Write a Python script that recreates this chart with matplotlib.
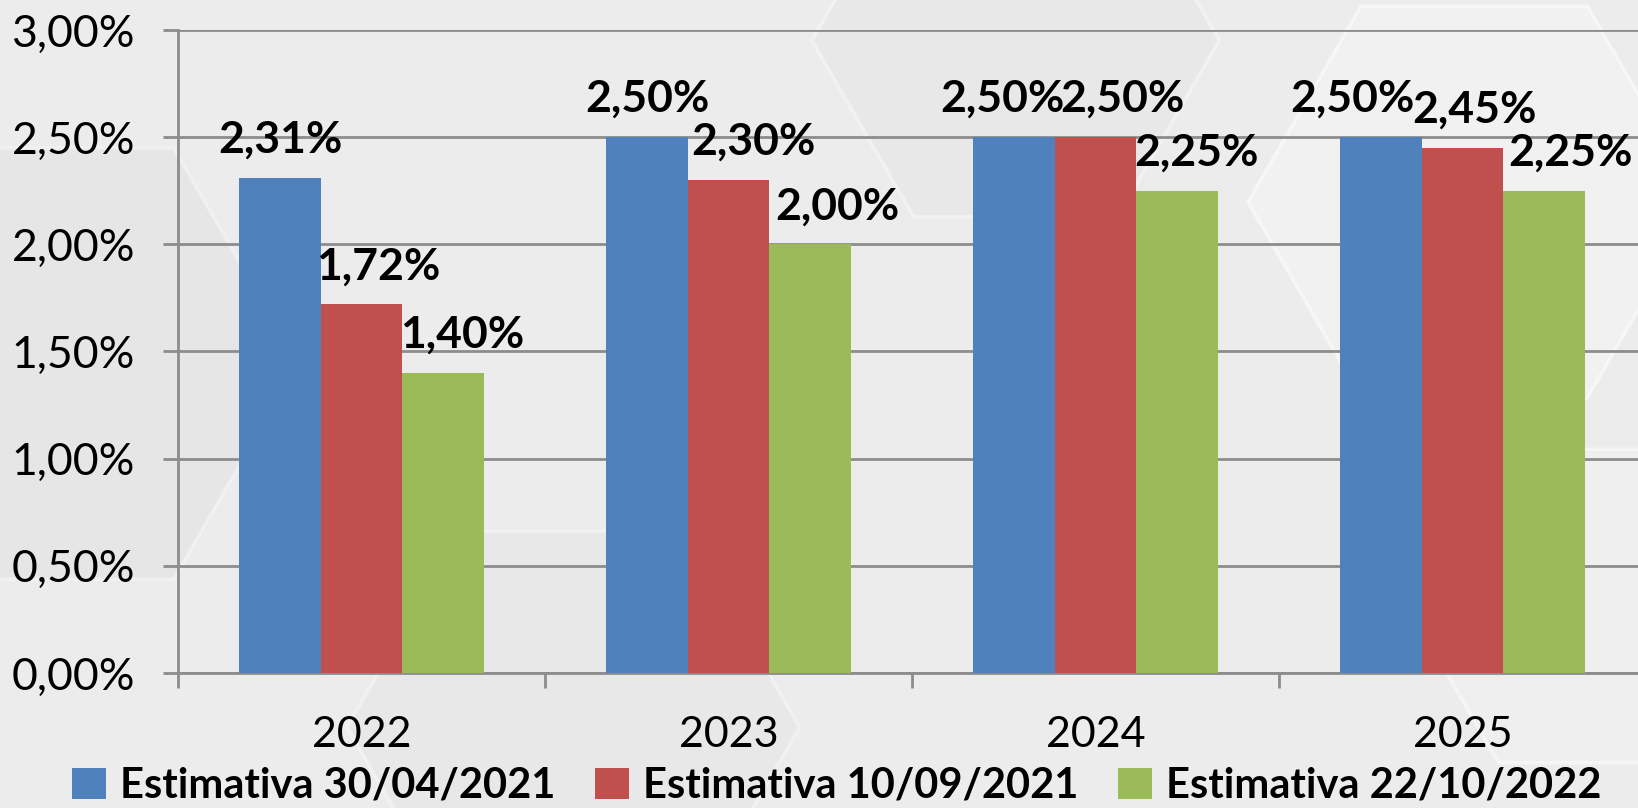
import numpy as np
import matplotlib.pyplot as plt
from matplotlib.patches import RegularPolygon, Patch

years = ['2022', '2023', '2024', '2025']
series = ['Estimativa 30/04/2021', 'Estimativa 10/09/2021', 'Estimativa 22/10/2022']
est_2021_04 = [2.31, 2.50, 2.50, 2.50]
est_2021_09 = [1.72, 2.30, 2.50, 2.45]
est_2022_10 = [1.40, 2.00, 2.25, 2.25]
colors = ['#4F81BD', '#C0504D', '#9BBB59']

# horizontal nudge of each data label, in pixels (blue, red, green per year)
label_shift = [[0, 17, 19], [0, 25, 27], [-12, 27, 19], [-29, 12, 26]]

plt.rcParams['font.family'] = ['Lato', 'DejaVu Sans']

W, H, DPI = 1638, 808, 100
fig = plt.figure(figsize=(W / DPI, H / DPI), dpi=DPI)
fig.patch.set_facecolor('#ececec')

# faint hexagon texture in the background
for (cx, cy, r, fc, a) in [(0.03, 0.55, 0.22, '#dcdcdc', 0.35), (0.9, 0.75, 0.2, '#f6f6f6', 0.5),
                           (0.62, 0.95, 0.18, '#e4e4e4', 0.4), (0.35, 0.1, 0.2, '#e2e2e2', 0.35),
                           (0.97, 0.25, 0.16, '#f4f4f4', 0.45)]:
    hx = RegularPolygon((cx * W, cy * H), 6, radius=r * H * 1.4, orientation=np.pi / 6,
                        transform=None, facecolor=fc, edgecolor='white', lw=2.5, alpha=a, zorder=-5)
    fig.patches.append(hx)

ax = fig.add_axes([178 / W, (H - 673) / H, 1468 / W, 643 / H])
ax.patch.set_alpha(0)

x = np.arange(len(years)) + 0.5
bw = 2 / 9
data = [est_2021_04, est_2021_09, est_2022_10]
for i, vals in enumerate(data):
    xs = x + (i - 1) * bw
    ax.bar(xs, vals, width=bw, color=colors[i], zorder=3, linewidth=0)
    for j, v in enumerate(vals):
        ax.annotate(f'{v:.2f}%'.replace('.', ','), (xs[j], v), xytext=(label_shift[j][i] * 0.72, 18),
                    textcoords='offset points', ha='center', va='baseline',
                    fontsize=32, fontweight='bold', color='black', zorder=4)

ax.set_xlim(0, 4)
ax.set_ylim(0, 3)
ax.set_yticks(np.arange(0, 3.01, 0.5))
ax.set_yticklabels([f'{t:.2f}%'.replace('.', ',') for t in np.arange(0, 3.01, 0.5)], fontsize=32)
ax.yaxis.grid(True, color='#8c8c8c', lw=2, zorder=0)
ax.tick_params(axis='y', length=11, width=2, color='#8c8c8c', pad=20)

ax.set_xticks(range(5))
ax.set_xticklabels([])
ax.set_xticks(x, minor=True)
ax.set_xticklabels(years, minor=True, fontsize=31)
ax.tick_params(axis='x', which='major', length=11, width=2, color='#8c8c8c')
ax.tick_params(axis='x', which='minor', length=0, pad=31)

for s in ['top', 'right']:
    ax.spines[s].set_visible(False)
for s in ['left', 'bottom']:
    ax.spines[s].set_color('#8c8c8c')
    ax.spines[s].set_linewidth(2)

handles = [Patch(facecolor=c, label=l) for c, l in zip(colors, series)]
fig.legend(handles=handles, loc='center', bbox_to_anchor=(0.511, 22 / H), ncol=3, frameon=False,
           prop={'weight': 'bold', 'size': 30}, handlelength=0.8, handleheight=0.8,
           handletextpad=0.35, columnspacing=0.95, borderaxespad=0)

fig.savefig('out.png', dpi=DPI, facecolor=fig.get_facecolor())
